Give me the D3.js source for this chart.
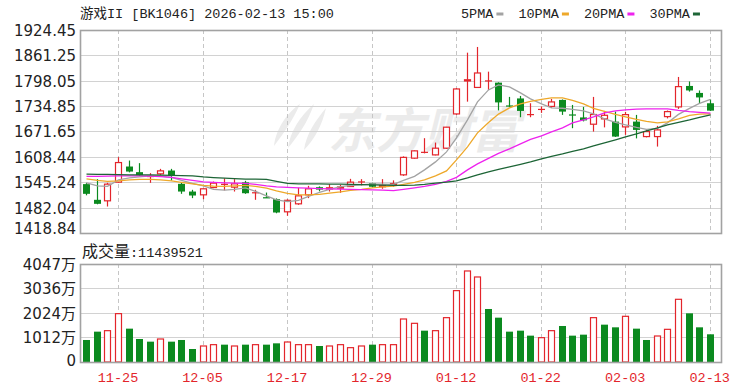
<!DOCTYPE html>
<html>
<head>
<meta charset="utf-8">
<script src="https://cdn.jsdelivr.net/npm/d3@7"></script>
<style>
  body { margin: 0; background: #fff; }
</style>
</head>
<body>
<div class="kline_chart"></div>
<script>
// values (price in points, volume in 万)
var dates = ["11-20","11-21","11-24","11-25","11-26","11-27","11-28","12-01","12-02","12-03",
  "12-04","12-05","12-08","12-09","12-10","12-11","12-12","12-15","12-16","12-17",
  "12-18","12-19","12-22","12-23","12-24","12-25","12-26","12-29","12-30","12-31",
  "01-05","01-06","01-07","01-08","01-09","01-12","01-13","01-14","01-15","01-16",
  "01-19","01-20","01-21","01-22","01-23","01-26","01-27","01-28","01-29","01-30",
  "02-02","02-03","02-04","02-05","02-06","02-09","02-10","02-11","02-12","02-13"];

var open_px = [1540.6,1501.5,1499.0,1545.5,1584.4,1570.4,1559.5,1566.2,1574.4,1541.3,
  1522.1,1513.9,1532.0,1540.0,1533.0,1545.0,1519.0,1508.0,1503.2,1471.6,
  1491.5,1513.9,1533.0,1529.0,1531.0,1534.6,1546.0,1543.0,1534.5,1539.0,
  1563.7,1605.3,1619.7,1613.4,1630.1,1715.4,1799.0,1781.4,1797.6,1793.3,
  1736.6,1754.0,1713.7,1726.6,1734.1,1750.3,1714.2,1706.7,1689.8,1703.0,
  1696.3,1683.1,1696.3,1659.0,1659.0,1708.7,1732.9,1785.1,1767.7,1742.0];
var high_px = [1543.8,1553.0,1543.8,1607.7,1599.3,1592.8,1568.0,1578.6,1578.6,1543.8,
  1526.4,1530.0,1547.0,1555.0,1553.0,1548.7,1526.4,1519.6,1505.0,1502.7,
  1531.4,1536.3,1535.0,1540.5,1538.8,1553.7,1553.0,1544.0,1553.0,1550.0,
  1609.7,1624.5,1655.0,1644.1,1683.0,1780.0,1868.0,1882.2,1820.7,1794.0,
  1757.8,1760.2,1742.0,1734.0,1752.8,1751.5,1737.8,1732.9,1757.8,1722.9,
  1721.2,1720.4,1713.0,1675.6,1685.6,1724.0,1807.5,1796.3,1773.9,1751.5];
var low_px = [1512.7,1490.3,1484.8,1543.8,1569.9,1561.2,1543.8,1562.4,1549.5,1516.4,
  1505.7,1503.0,1530.6,1525.0,1522.1,1516.4,1501.5,1506.5,1468.0,1461.7,
  1489.0,1505.7,1522.6,1522.1,1518.9,1534.0,1537.0,1533.0,1529.0,1534.0,
  1561.2,1604.0,1617.2,1612.2,1628.4,1713.0,1746.0,1780.0,1775.2,1724.2,
  1732.9,1707.2,1707.2,1718.0,1730.4,1713.0,1679.9,1696.8,1671.4,1681.9,
  1658.2,1663.2,1654.5,1657.0,1634.1,1704.3,1727.9,1771.0,1740.3,1722.9];
var close_px = [1516.4,1491.5,1540.5,1594.3,1571.9,1563.0,1559.5,1573.6,1562.0,1522.1,
  1512.2,1528.9,1543.0,1540.0,1541.3,1517.9,1519.0,1507.0,1469.9,1500.2,
  1511.4,1528.9,1527.0,1531.5,1533.5,1545.5,1546.0,1534.0,1537.0,1542.0,
  1607.2,1623.4,1619.7,1630.1,1682.4,1777.6,1800.5,1817.4,1797.6,1744.1,
  1734.1,1722.9,1713.7,1726.6,1745.3,1721.2,1712.5,1699.3,1714.0,1712.0,
  1659.0,1713.7,1675.6,1671.4,1675.6,1721.2,1783.4,1773.9,1756.5,1723.6];
var volume_wan = [909,1253,1294,1997,1377,950,840,950,840,909,
  537,661,716,716,661,716,716,716,771,826,
  716,716,661,661,716,592,661,716,716,716,
  1776,1597,1294,1294,1831,2947,3759,3511,2189,1831,
  1253,1294,1088,1005,1294,1487,1088,1129,1831,1542,
  1432,1886,1377,909,1074,1349,2589,2010,1432,1144];
var last_volume = 11439521;

var ma5 = [1543.8,1536.3,1535.1,1551.3,1556.2,1558.7,1561.2,1560.5,1557.5,1550.0,
  1542.6,1536.3,1527.6,1525.6,1527.6,1531.3,1522.6,1511.4,1501.5,1497.2,
  1500.2,1510.2,1520.2,1527.6,1534.6,1537.1,1538.8,1541.3,1540.5,1540.0,
  1550.0,1559.9,1576.1,1596.0,1620.9,1655.7,1700.5,1745.3,1775.2,1787.6,
  1782.6,1767.7,1752.8,1740.3,1730.4,1729.6,1726.6,1722.9,1715.4,1703.0,
  1694.3,1688.1,1681.9,1676.9,1679.4,1693.1,1714.2,1729.2,1741.6,1751.5];
var ma10 = [1553.7,1550.0,1547.5,1548.8,1551.3,1552.5,1552.5,1551.3,1548.8,1545.0,
  1541.3,1537.6,1535.6,1535.1,1536.3,1537.6,1535.1,1530.6,1523.9,1517.7,
  1513.9,1513.9,1515.2,1518.2,1521.4,1525.1,1527.6,1531.3,1533.8,1535.6,
  1540.0,1545.0,1551.3,1561.2,1573.6,1601.0,1633.4,1668.2,1694.0,1715.0,
  1730.4,1740.3,1746.6,1751.5,1755.3,1755.3,1749.0,1740.3,1729.2,1721.7,
  1714.2,1708.0,1701.8,1696.8,1693.1,1695.6,1703.0,1711.7,1714.7,1715.4];
var ma20 = [1559.9,1559.9,1560.5,1561.2,1561.2,1561.2,1560.5,1559.5,1557.5,1553.7,
  1550.0,1546.3,1545.0,1543.8,1543.1,1542.6,1540.0,1536.3,1533.8,1532.6,
  1531.3,1530.6,1529.6,1528.9,1528.1,1527.6,1527.1,1526.4,1525.6,1524.6,
  1527.6,1531.3,1535.1,1540.0,1547.5,1557.5,1576.1,1591.1,1604.8,1617.2,
  1628.4,1640.8,1652.0,1660.7,1670.7,1680.6,1693.1,1700.5,1708.0,1717.9,
  1722.9,1725.4,1727.2,1727.9,1727.9,1727.9,1724.2,1721.2,1719.2,1717.2];
var ma30 = [1565.4,1564.9,1564.9,1564.4,1563.7,1563.7,1563.7,1562.9,1562.4,1561.9,
  1561.2,1558.7,1557.0,1555.5,1554.5,1553.0,1553.0,1552.5,1547.5,1542.6,
  1541.3,1541.3,1541.3,1540.5,1540.5,1540.0,1539.5,1538.8,1538.1,1537.6,
  1537.6,1538.1,1540.0,1543.1,1545.5,1548.8,1556.2,1563.7,1571.1,1577.4,
  1583.6,1589.8,1596.0,1603.5,1609.7,1615.9,1622.2,1628.4,1635.8,1643.3,
  1650.8,1658.2,1665.7,1673.2,1680.6,1688.1,1694.3,1700.5,1706.8,1713.0];

var price_ticks = [1418.84,1482.04,1545.24,1608.44,1671.65,1734.85,1798.05,1861.25,1924.45];
var volume_ticks = [0,1012,2024,3036,4047];
var tick_dates = ["11-25","12-05","12-17","12-29","01-12","01-22","02-03","02-13"];
var ma_names = ["5PMA","10PMA","20PMA","30PMA"];
var ma_series = [ma5, ma10, ma20, ma30];

// looks
var width = 750, height = 391;
var price_box = {left: 80, right: 721, top: 30, bottom: 233};
var vol_box = {left: 80, right: 721, top: 264, bottom: 362};
var red = "#e3252b", green = "#0b8a1f";
var ma_colors = ["#a3a3a3", "#eea82a", "#ee22ee", "#1d6536"];
var mono = "'Liberation Mono','DejaVu Sans Mono','Noto Sans CJK SC',monospace";
var sans = "'DejaVu Sans','Noto Sans CJK SC',sans-serif";

var rows = dates.map(function (d, i) {
  return {
    date: d,
    open: open_px[i], high: high_px[i], low: low_px[i], close: close_px[i],
    volume: volume_wan[i],
    prev_close: i > 0 ? close_px[i - 1] : open_px[i]
  };
});

var svg = d3.select(".kline_chart").append("svg")
  .attr("width", width)
  .attr("height", height)
  .style("display", "block")
  .style("background-color", "#fff");

var x_scale = d3.scaleBand()
  .domain(dates)
  .range([81, 715])
  .paddingInner(0.35)
  .paddingOuter(0.175);
var cx = function (d) { return Math.round(x_scale(d) + x_scale.bandwidth() / 2) + 0.5; };

var y_price = d3.scaleLinear()
  .domain([price_ticks[0], price_ticks[price_ticks.length - 1]])
  .range([price_box.bottom, price_box.top]);
var y_vol = d3.scaleLinear()
  .domain([0, volume_ticks[volume_ticks.length - 1]])
  .range([vol_box.bottom, vol_box.top]);

// watermark
var wm = svg.append("g").attr("class", "watermark").attr("fill", "#ebebeb");
wm.append("path")
  .attr("d", "M300,104 C288,112 276,128 274,146 C283,134 292,122 300,104 Z M314,104 C300,116 290,132 288,148 C298,136 308,122 314,104 Z M326,108 C316,120 306,134 304,150 C314,140 322,126 326,108 Z");
wm.append("text")
  .attr("x", 328).attr("y", 148)
  .attr("font-family", "'Noto Sans CJK SC',sans-serif")
  .attr("font-weight", "bold")
  .attr("font-style", "italic")
  .attr("font-size", 48)
  .text("东方财富");

// grid
var grid = svg.append("g").attr("class", "grid");
grid.selectAll(".hgrid_price")
  .data(price_ticks.slice(1, -1))
  .enter().append("line")
    .attr("x1", price_box.left).attr("x2", price_box.right)
    .attr("y1", d => Math.round(y_price(d)) + 0.5)
    .attr("y2", d => Math.round(y_price(d)) + 0.5)
    .attr("stroke", "#d2d2d2");
grid.selectAll(".hgrid_vol")
  .data(volume_ticks.slice(1, -1))
  .enter().append("line")
    .attr("x1", vol_box.left).attr("x2", vol_box.right)
    .attr("y1", d => Math.round(y_vol(d)) + 0.5)
    .attr("y2", d => Math.round(y_vol(d)) + 0.5)
    .attr("stroke", "#d2d2d2");
[price_box, vol_box].forEach(function (box) {
  grid.append("g").selectAll("line")
    .data(tick_dates)
    .enter().append("line")
      .attr("x1", cx).attr("x2", cx)
      .attr("y1", box.top).attr("y2", box.bottom)
      .attr("stroke", "#c6c6c6")
      .attr("stroke-dasharray", "4,3");
});

// candles
var candles = svg.append("g").attr("class", "candles");
candles.selectAll("line")
  .data(rows)
  .enter().append("line")
    .attr("x1", d => cx(d.date)).attr("x2", d => cx(d.date))
    .attr("y1", d => y_price(d.high)).attr("y2", d => y_price(d.low))
    .attr("stroke", d => d.close < d.open ? green : red)
    .attr("stroke-width", 1.2);
candles.selectAll("rect")
  .data(rows)
  .enter().append("rect")
    .attr("x", d => d.close > d.open ? cx(d.date) - 3 : cx(d.date) - 3.5)
    .attr("width", d => d.close > d.open ? 6 : 7)
    .attr("y", d => d.close === d.open ? y_price(d.close) - 0.6 : y_price(Math.max(d.open, d.close)))
    .attr("height", d => Math.max(1.2, Math.abs(y_price(d.open) - y_price(d.close))))
    .attr("fill", d => d.close > d.open ? "#fff" : (d.close < d.open ? green : red))
    .attr("stroke", d => d.close > d.open ? red : "none")
    .attr("stroke-width", 1.2);

// moving averages
var ma_line = d3.line()
  .x((d, i) => cx(dates[i]))
  .y(d => y_price(d));
svg.append("g").attr("class", "ma_lines")
  .selectAll("path")
  .data(ma_series)
  .enter().append("path")
    .attr("d", ma_line)
    .attr("fill", "none")
    .attr("stroke", (d, i) => ma_colors[i])
    .attr("stroke-width", 1.3);

// volume bars
svg.append("g").attr("class", "volume")
  .selectAll("rect")
  .data(rows)
  .enter().append("rect")
    .attr("x", d => d.close >= d.prev_close ? cx(d.date) - 3 : cx(d.date) - 3.5)
    .attr("width", d => d.close >= d.prev_close ? 6 : 7)
    .attr("y", d => y_vol(d.volume))
    .attr("height", d => vol_box.bottom - y_vol(d.volume))
    .attr("fill", d => d.close >= d.prev_close ? "#fff" : green)
    .attr("stroke", d => d.close >= d.prev_close ? red : "none")
    .attr("stroke-width", 1.2);

// axes
var price_axis = svg.append("g")
  .attr("transform", "translate(76,0)")
  .call(d3.axisLeft(y_price).tickValues(price_ticks).tickSize(0).tickPadding(0).tickFormat(d3.format(".2f")));
price_axis.select(".domain").remove();
price_axis.selectAll("text")
  .attr("font-family", sans).attr("font-size", 15).attr("fill", "#222")
  .attr("dy", (d, i) => i === 0 ? "0em" : "0.36em");

var vol_axis = svg.append("g")
  .attr("transform", "translate(76,0)")
  .call(d3.axisLeft(y_vol).tickValues(volume_ticks).tickSize(0).tickPadding(0)
    .tickFormat(d => d === 0 ? "0" : d + "万"));
vol_axis.select(".domain").remove();
vol_axis.selectAll("text")
  .attr("font-family", sans).attr("font-size", 15).attr("fill", "#222")
  .attr("dy", (d, i) => i === 0 ? "0.2em" : "0.36em");

var date_axis = svg.append("g")
  .attr("transform", "translate(0," + vol_box.bottom + ")")
  .call(d3.axisBottom(x_scale).tickValues(tick_dates).tickSize(0).tickPadding(10));
date_axis.select(".domain").remove();
date_axis.selectAll("text")
  .attr("font-family", mono).attr("font-size", 13.5).attr("fill", red);

// frames
[price_box, vol_box].forEach(function (box) {
  svg.append("rect")
    .attr("x", box.left + 0.5).attr("y", box.top + 0.5)
    .attr("width", box.right - box.left).attr("height", box.bottom - box.top)
    .attr("fill", "none")
    .attr("stroke", "#a2a2a2")
    .attr("stroke-width", 1.6);
});

// title, legend, volume caption
svg.append("text")
  .attr("x", 80).attr("y", 18)
  .attr("font-family", mono).attr("font-size", 13.5).attr("fill", "#222")
  .text("游戏II [BK1046] 2026-02-13 15:00");

var legend_x = 461;
ma_names.forEach(function (name, i) {
  var t = svg.append("text")
    .attr("x", legend_x).attr("y", 18)
    .attr("font-family", mono).attr("font-size", 13.5).attr("fill", "#222")
    .text(name);
  var w = t.node().getComputedTextLength();
  svg.append("rect")
    .attr("x", legend_x + w + 3).attr("y", 12.5)
    .attr("width", 7).attr("height", 3)
    .attr("fill", ma_colors[i]);
  legend_x += w + 3 + 7 + 15;
});

var vol_caption = svg.append("text")
  .attr("x", 82).attr("y", 257)
  .attr("fill", "#222");
vol_caption.append("tspan")
  .attr("font-family", "'Noto Sans CJK SC',sans-serif").attr("font-size", 16)
  .text("成交量");
vol_caption.append("tspan")
  .attr("font-family", mono).attr("font-size", 13.5)
  .text(":" + last_volume);
</script>
</body>
</html>
